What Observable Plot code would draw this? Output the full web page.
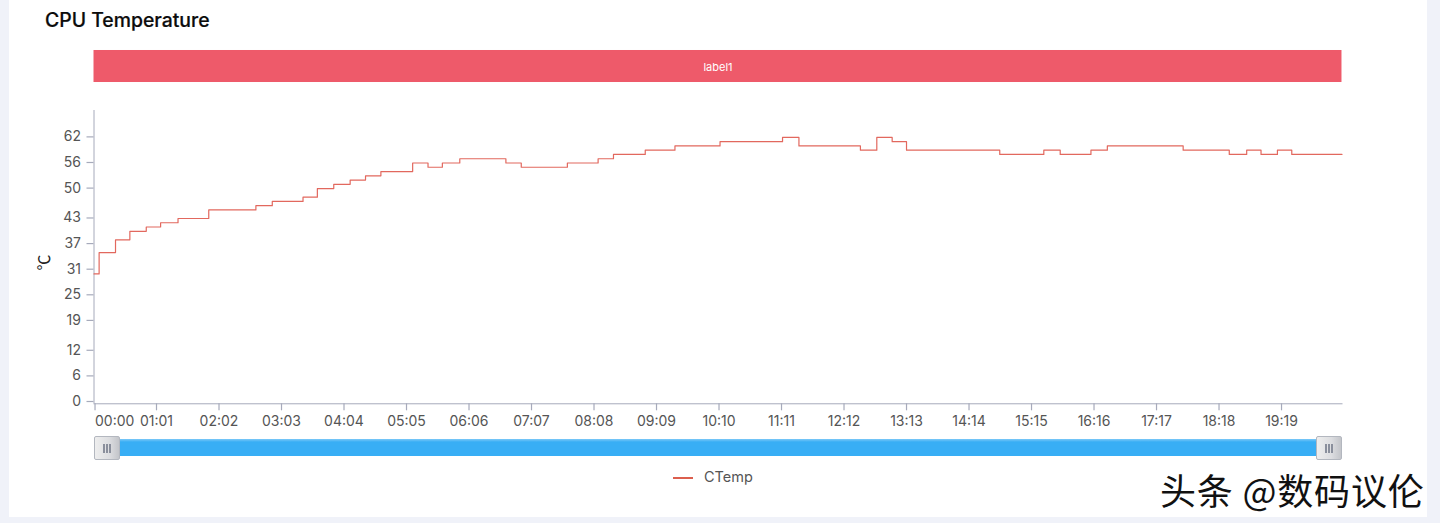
<!DOCTYPE html>
<html>
<head>
<meta charset="utf-8">
<script src="https://cdn.jsdelivr.net/npm/d3@7"></script>
<script src="https://cdn.jsdelivr.net/npm/@observablehq/plot@0.6"></script>
<style>
  html, body { margin: 0; padding: 0; background: #f0f2f9; }
  #page { position: relative; width: 1440px; height: 523px; overflow: hidden; background: #f0f2f9; font-family: Inter, "Liberation Sans", Arial, sans-serif; }
  #card { position: absolute; left: 8.5px; top: -4px; width: 1418.5px; height: 521px; background: #fff; }
  #title { position: absolute; left: 45px; top: 8px; font-size: 19.4px; line-height: 24px; font-weight: 500; color: #0c0c0c; -webkit-text-stroke: .2px #0c0c0c; white-space: nowrap; }
  #chart { position: absolute; left: 0; top: 40px; }
  #chart svg { display: block; }
  .track { position: absolute; left: 119px; top: 439px; width: 1197px; height: 17px; background: linear-gradient(#7cc8f7 0, #38aef5 3px, #38aef5 100%); }
  .handle { position: absolute; top: 436px; width: 24px; height: 22px; border: 1px solid #b3b7bf; border-radius: 2px; background: linear-gradient(90deg, #eeeeee, #dcdde0 60%, #c3c5ca); box-sizing: content-box; }
  .handle i { position: absolute; top: 7px; width: 2px; height: 9px; background: #8a8f9c; }
  #legend { position: absolute; left: 673px; top: 467px; height: 20px; color: #555; font-size: 14.5px; line-height: 20px; }
  #legend b { position: absolute; left: 0; top: 10px; width: 20px; height: 2px; background: #dc5f4e; }
  #legend span { position: absolute; left: 31px; top: 0; }
  #mark { position: absolute; left: 1160px; top: 465px; font-family: "Noto Sans CJK SC", sans-serif; font-size: 36px; letter-spacing: .8px; line-height: 48px; color: #111; white-space: nowrap; text-shadow: 1px 1px 0 #fff, -1px 0 0 #fff; font-weight: 400; }
</style>
</head>
<body>
<div id="page">
  <div id="card"></div>
  <div id="title"></div>
  <div id="chart"></div>
  <div class="track"></div>
  <div class="handle" style="left:93.5px"><i style="left:8px"></i><i style="left:11px"></i><i style="left:14px"></i></div>
  <div class="handle" style="left:1315.5px"><i style="left:8px"></i><i style="left:11px"></i><i style="left:14px"></i></div>
  <div id="legend"><b></b><span></span></div>
  <div id="mark"></div>
</div>
<script>
const chartTitle = "CPU Temperature";
const seriesName = "CTemp";
const bandLabel = "label1";
const unitLabel = "℃";
const watermark = "头条 @数码议伦";

// minutes since start at which each step begins, and the temperature held
const minutes = [0,5,21,35,51,65,82,112,158,174,204,218,234,250,265,280,311,326,340,357,402,417,462,492,507,538,567,611,672,688,748,764,779,793,884,927,943,973,989,1063,1108,1125,1139,1155,1169,1218];
const temps = [30,35,38,40,41,42,43,45,46,47,48,50,51,52,53,54,56,55,56,57,56,55,56,57,58,59,60,61,62,60,59,62,61,59,58,59,58,59,60,59,58,59,58,59,58,58];

const yTicks = [0,6,12,19,25,31,37,43,50,56,62];
const xTicks = [1,61,122,183,244,305,366,427,488,549,610,671,732,793,854,915,976,1037,1098,1159];
const xTickLabels = ["00:00","01:01","02:02","03:03","04:04","05:05","06:06","07:07","08:08","09:09","10:10","11:11","12:12","13:13","14:14","15:15","16:16","17:17","18:18","19:19"];

const bandStart = 0, bandEnd = 1218, bandLow = 74.86, bandHigh = 82.36;
const xMax = 1219, yMax = 68.3, yAxisFloor = -0.42;

const series = minutes.map((m, i) => ({minute: m, temp: temps[i]}));
const labelOf = m => xTickLabels[xTicks.indexOf(m)];
const axisInk = "#a6aabb", textInk = "#555";

const chart = Plot.plot({
  width: 1440, height: 395,
  marginLeft: 93.5, marginRight: 97.5, marginTop: 70, marginBottom: 31.7,
  style: {fontFamily: 'Inter, "Liberation Sans", Arial, sans-serif', fontSize: "14px", background: "transparent", overflow: "visible"},
  x: {domain: [0, xMax], range: [93.5, 1342.5]},
  y: {domain: [0, yMax], range: [361.5, 70]},
  marks: [
    Plot.rect([{x1: bandStart, x2: bandEnd, y1: bandLow, y2: bandHigh}], {x1: "x1", x2: "x2", y1: "y1", y2: "y2", fill: "#ee5a6a"}),
    Plot.text([bandLabel], {x: (bandStart + bandEnd) / 2, y: (bandLow + bandHigh) / 2, dy: 1, text: d => d, fill: "#fff", fontSize: 11}),
    Plot.ruleX([0], {y1: yAxisFloor, y2: yMax, stroke: axisInk}),
    Plot.ruleY([yAxisFloor], {x1: 0, x2: xMax, stroke: axisInk}),
    Plot.axisY(yTicks, {anchor: "left", tickSize: 7, tickPadding: 6, label: null, color: textInk, stroke: axisInk, strokeWidth: 1.2, dy: -0.5, fontVariant: "normal"}),
    Plot.axisX(xTicks.slice(1), {anchor: "bottom", tickSize: 7, tickPadding: 5, label: null, tickFormat: labelOf, color: textInk, stroke: axisInk, strokeWidth: 1.2, fontVariant: "normal"}),
    Plot.axisX(xTicks.slice(0, 1), {anchor: "bottom", tickSize: 7, tickPadding: 5, label: null, tickFormat: labelOf, textAnchor: "start", color: textInk, stroke: axisInk, strokeWidth: 1.2, fontVariant: "normal"}),
    Plot.text([unitLabel], {x: 0, y: 32.7, text: d => d, rotate: -90, dx: -49, fill: "#222", fontSize: 16, fontFamily: '"Noto Sans CJK SC", sans-serif'}),
    Plot.line(series, {x: "minute", y: "temp", curve: "step-after", stroke: "#e2685e", strokeWidth: 1.2})
  ]
});
document.getElementById("chart").append(chart);
document.getElementById("title").textContent = chartTitle;
document.querySelector("#legend span").textContent = seriesName;
document.getElementById("mark").textContent = watermark;
</script>
</body>
</html>
